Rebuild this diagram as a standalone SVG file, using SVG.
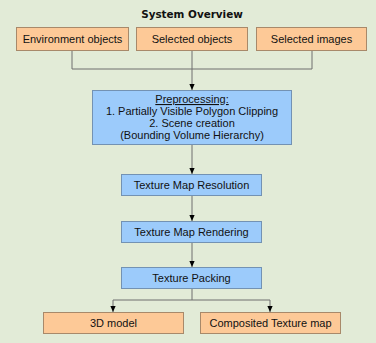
<svg xmlns="http://www.w3.org/2000/svg" width="376" height="343" viewBox="0 0 376 343">
<defs>
<marker id="ah" viewBox="0 0 8 8" refX="8" refY="4" markerWidth="6" markerHeight="6" markerUnits="userSpaceOnUse" orient="auto">
<path d="M0,0.5 L8,4 L0,7.5 z" fill="#000"/>
</marker>
</defs>
<style>
text{font-family:"Liberation Sans",Arial,sans-serif;font-size:11px;fill:#111;text-anchor:middle}
.title{font-family:"DejaVu Sans",sans-serif;font-weight:bold;font-size:10.4px}
.o{fill:#fdc997;stroke:#a8896a;stroke-width:1}
.b{fill:#9ccbfb;stroke:#7392b3;stroke-width:1}
.c{fill:none;stroke:#6f6f6f;stroke-width:1}
.a{fill:none;stroke:#6f6f6f;stroke-width:1;marker-end:url(#ah)}
</style>
<rect x="0" y="0" width="376" height="343" fill="#e2ebd7"/>
<text class="title" x="192" y="17.5">System Overview</text>
<g id="connectors">
<path class="c" d="M72,50 V69 H312 V50"/>
<path class="a" d="M192,50 V90"/>
<path class="a" d="M192,144 V174"/>
<path class="a" d="M192,195 V221"/>
<path class="a" d="M192,242 V267"/>
<path class="c" d="M192,288 V300"/>
<path class="a" d="M113,300 V312"/>
<path class="a" d="M113,300 H270 V312"/>
</g>
<g id="env"><rect class="o" x="16.5" y="27.5" width="112" height="23"/><text x="72.5" y="43">Environment objects</text></g>
<g id="selobj"><rect class="o" x="136.5" y="27.5" width="111" height="23"/><text x="192" y="43">Selected objects</text></g>
<g id="selimg"><rect class="o" x="256.5" y="27.5" width="110" height="23"/><text x="311.5" y="43">Selected images</text></g>
<g id="pre"><rect class="b" x="92.5" y="90.5" width="199" height="54"/>
<text x="192" y="103" text-decoration="underline">Preprocessing:</text>
<text x="192" y="115">1. Partially Visible Polygon Clipping</text>
<text x="192" y="127">2. Scene creation</text>
<text x="192" y="139">(Bounding Volume Hierarchy)</text></g>
<g id="tmres"><rect class="b" x="121.5" y="174.5" width="140" height="21"/><text x="191.5" y="189">Texture Map Resolution</text></g>
<g id="tmrend"><rect class="b" x="121.5" y="221.5" width="140" height="21"/><text x="191.5" y="236">Texture Map Rendering</text></g>
<g id="tpack"><rect class="b" x="121.5" y="267.5" width="140" height="21"/><text x="191.5" y="282">Texture Packing</text></g>
<g id="model"><rect class="o" x="43.5" y="312.5" width="140" height="21"/><text x="113.5" y="327">3D model</text></g>
<g id="ctm"><rect class="o" x="200.5" y="312.5" width="140" height="21"/><text x="270.5" y="327">Composited Texture map</text></g>
</svg>
